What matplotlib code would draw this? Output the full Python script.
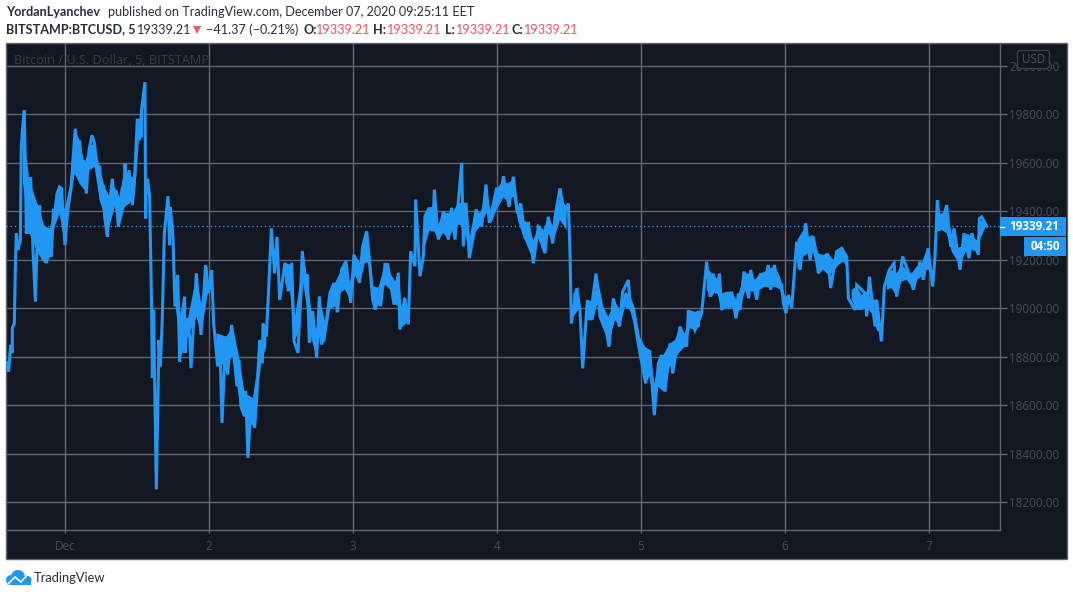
import matplotlib
matplotlib.use('Agg')
import matplotlib.pyplot as plt
from matplotlib.patches import Rectangle, FancyBboxPatch, Polygon, Ellipse

nan = float('nan')

# hours since Dec 1 00:00 (5 minute BTCUSD on Bitstamp)
hours = [
    -9.67, -9.39, -9.06, -8.78, -8.78, -8.44, -8.28, -8.11, -7.83, -7.44, -7.28, -7.11, -6.78, -6.56, -6.44, -6.11,
    -6.0, -5.72, -5.33, -4.94, -4.67, -4.22, -4.06, -3.67, -3.39, -3.06, -2.56, -2.28, -1.94, -1.72, -1.33, -0.89,
    -0.56, 0, 0.5, 1.06, 1.33, 1.72, 2.0, 2.44, 2.78, 3.11, 3.56, 4.0, 4.5, 4.94, 5.22, 5.78, 6.06, 6.44, 6.61,
    7.06, 7.44, 7.89, 8.28, 8.5, 8.89, 9.56, 9.78, 10.0, 10.33, 10.67, 11.22, 11.61, 12.06, 12.44, 12.78, 13.33,
    13.44, 13.56, 13.78, 14.11, 14.44, 14.56, 14.78, 14.94, 15.22, 15.67, 15.89, 16.22, 16.56, 17.17, 17.44, 17.56,
    18.0, 18.33, 18.78, 19.11, 19.44, 19.94, 20.0, 20.33, 20.78, 21.0, 21.89, 22.67, 23.44, 23.94, 24.44, 24.78,
    25.44, 25.78, 26.17, 26.78, 27.11, 27.78, 28.11, 28.67, 29.0, 29.33, 29.94, 30.11, 30.5, 30.89, 31.17, 31.61,
    32.0, 32.44, 32.89, 33.0, 33.56, 34.0, 34.39, 34.94, 35.33, 35.78,
    36.67, 37.22, 37.78, 38.17, 38.83, 39.56, 40.0, 40.39, 40.72, 41.28, 41.94, 42.39, 42.78, 43.61, 44.17, 44.83,
    45.39, 46.11, 46.83, 47.61, 48.17, 49.06, 49.61, 50.28, 50.72, 51.28, 51.72, 52.28, 52.61, 53.33, 53.78, 54.28,
    54.83, 55.56, 55.83, 56.61, 57.22, 57.61, 58.33, 58.44, 59.17, 59.72, 60.0, 60.72, 61.28, 61.56, 62.22, 63.06,
    63.89, 64.44, 65.0, 66.11, 66.39, 66.83, 67.39, 68.06, 68.5, 69.44, 70.17, 70.72, 71.94, 72.5, 73.06,
    74.0, 74.72, 75.39, 75.94, 76.39, 76.67, 77.22, 78.06, 78.89, 79.44, 80.0, 80.56, 81.28, 81.67, 82.5, 83.22,
    83.89, 84.17, 84.39, 85.28, 85.83, 86.28, 87.06, 87.5, 88.5, 89.17, 90.28, 90.67, 91.39, 92.39, 92.94, 93.89,
    94.17, 94.94, 95.83, 96.78, 97.44, 98.22, 98.89, 99.44, 100.0, 100.83, 101.28, 102.5, 103.61, 103.89, 105.0,
    106.11, 106.94, 107.5, 108.06, 108.61, 109.06, 109.44, 110.0, 110.83, 111.11, 111.83, 112.22,
    112.5, 113.17, 113.94, 114.28, 115.28, 115.94, 116.5, 117.22, 117.61, 118.22, 118.61, 119.44, 119.72, 120.17,
    120.56, 121.11, 121.94, 122.5, 123.44, 124.17, 124.72, 125.56, 127.06, 127.61, 128.61, 129.44, 130.28, 130.56,
    131.67, 131.94, 133.33, 133.61, 134.06, 135.0, 135.28, 136.06, 136.56, 137.39, 138.17, 138.61, 139.61, 140.83,
    141.39, 142.5, 143.06, 143.83, 144.61, 145.0, 145.39, 145.83, 146.94, 147.61, 148.17, 149.17, 149.83, 150.67,
    151.11, 152.22, 152.39, 152.78, 153.61,
]
prices = [
    18775, 18740, 18850, 18816, 18918, 18939, 19158, 19309, 19241, 19282, 19666, 19734, 19816, 19515, 19309, 19529,
    19309, 19542, 19241, 19028, 19254, 19426, 19268, 19200, 19337, 19186, 19330, 19213, 19398, 19391, 19474, 19501,
    19494, 19261, 19419, 19508, 19611, 19741, 19556, 19693, 19515, 19611, 19474, 19652, 19714, 19679, 19597, 19583,
    19446, 19508, 19378, 19295, 19433, 19535, 19419, 19487, 19337, 19501, 19419, 19597, 19474, 19570, 19426, 19542,
    19782, 19693, 19823, 19933, 19371, 19529, 19529, 19460, 18994, 18713, 18994, 18706, 18254, 18870, 18761, 18960,
    19309, 19463, 19261, 19419, 19295, 19008, 19138, 18781, 18966, 19049, 18816, 18960, 18884, 18754, 19145, 18891,
    19179, 19062, 19158, 18939, 18761, 18891, 18528, 18884, 18727, 18932, 18816, 18679, 18788, 18596, 18555, 18658,
    18384, 18562, 18631, 18507, 18651, 18870, 18774, 18939, 18884, 19110, 19330, 19145, 19295, 19035,
    19188, 19071, 19188, 18865, 18817, 19236, 19105, 19140, 18858, 18989, 18796, 19050, 18851, 18954, 19064, 19105,
    18984, 19160, 19195, 19023, 19222, 19105, 19256, 19318, 19202, 19037, 18995, 19085, 19009, 19181, 19181, 19105,
    19016, 19147, 18913, 19044, 18934, 19236, 19174, 19449, 19133, 19215, 19380, 19415, 19318, 19490, 19284, 19401,
    19284, 19415, 19284, 19600, 19256, 19435, 19208, 19298, 19408, 19339, 19511, 19353, 19497, 19449, 19545,
    19419, 19543, 19392, 19433, 19351, 19289, 19357, 19186, 19337, 19323, 19227, 19378, 19268, 19378, 19495, 19392,
    19433, 19227, 18938, 19083, 18993, 18753, 19035, 18952, 19144, 18966, 18897, 18842, 19041, 18925, 19069, 19117,
    19021, 18945, 18815, 18691, 18828, 18560, 18773, 18808, 18657, 18856, 18732, 18925, 18842, 18993, 18911,
    18980, 19193, 19048, 19144, 19062, 19144, 18993, 19062, 19000, 19069, 18959, 19062,
    18994, 19152, 19042, 19159, 19036, 19145, 19090, 19179, 19077, 19179, 19125, 19097, 19022, 18981,
    19056, 19001, 19275, 19159, 19351, 19200, 19296, 19145, 19227, 19084, 19234, 19248, 19214, 19042,
    18994, 19097, 19063, 18967, 19131, 18926, 19036, 18864, 19090, 19159, 19186, 19049, 19214, 19131,
    19077, 19193, 19118, 19248, 19090, 19214, 19447, 19323, 19426, 19255, 19330, 19159, 19310, 19207,
    19310, 19221, 19371, 19378, 19339.21,
]

# where the 5 minute swings run together: the high and low of the solid body, nan across the fast moves
band_hours = [
    -7.0, -5.89, -4.5, -3.39, -2.56, -1.72, -0.89, -0.06, 0.78, 1.61, 2.44, 3.28, 4.11, 4.94, 5.78, 6.61, 7.44,
    8.28, 9.11, 9.94, 10.78, 11.61, 12.33, 13.0, 13.4, 13.83, 14.2,
    18.44, 19.39, 20.5, 21.89, 22.72, 23.83, 24.5, 25.22, 26.89, 28.0, 29.11, 29.94, 31.33, 32.72, 33.56, 34.0,
    36.67, 37.5, 38.33, 39.17, 39.72, 40.28, 41.11, 41.94, 42.5, 43.33, 44.17, 45.0, 45.83, 46.67, 47.5, 48.33,
    49.17, 50.0, 50.56, 51.39, 52.22, 53.33, 54.17, 55.0, 55.56, 56.11, 56.94, 57.5,
    59.83, 60.72, 61.39, 62.22, 63.06, 63.89, 64.72, 65.56, 66.28, 66.94, 67.5, 68.33, 69.17, 70.28, 71.11, 71.94,
    73.06, 73.61, 74.72, 75.56, 76.39, 77.22, 78.06, 78.89, 79.72, 80.56, 81.39, 82.5, 83.61, 84.0,
    84.72, 85.56, 86.0,
    87.06, 88.06, 88.72, 89.72, 90.56, 91.67, 92.5, 93.33, 94.17, 95.0, 95.83, 96.67, 97.5, 98.22, 98.89, 99.72,
    100.83, 101.67, 102.5, 103.33, 104.17, 105.0, 105.83, 106.4,
    106.94, 107.78, 108.61, 109.44, 110.28, 111.11, 111.94, 113.33, 114.17, 115.0, 115.83, 116.67, 117.5, 118.33,
    119.17, 120.0, 120.83, 121.3,
    122.06, 123.06, 123.89, 124.72, 125.56, 126.39, 127.22, 128.06, 128.89, 129.72, 130.28, 130.7,
    131.11, 131.94, 132.78, 133.61, 134.44, 135.28, 135.83, 136.3,
    136.94, 137.78, 138.61, 139.44, 140.28, 141.11, 141.94, 142.78, 143.61, 144.17, 144.8,
    145.28, 146.11, 146.94, 147.78, 148.61, 149.44, 150.28, 151.11, 151.94, 152.61, 153.33,
]
band_high = [
    19748, 19522, 19426, 19337, 19330, 19398, 19501, 19405, 19501, 19741, 19693, 19597, 19672, 19679, 19583, 19501, 19460,
    19501, 19460, 19583, 19542, 19542, 19775, 19830, nan, 19529, nan,
    19131, 18966, 18960, 19131, 19021, 19172, nan, 18898, 18884, 18925, 18788, 18651, 18631, 18870, 18939, nan,
    19188, 19181, 18968, 19105, 19229, 19140, 18982, 18913, 19037, 18947, 19064, 19105, 19147, 19181, 19105, 19222,
    19188, 19284, 19291, 19092, 19085, 19181, 19147, 19112, 19147, 19009, 19037, nan,
    19380, 19415, 19421, 19346, 19394, 19394, 19401, 19435, 19435, 19435, 19298, 19408, 19394, 19463, 19394, 19490,
    19531, 19515, 19529, 19419, 19364, 19351, 19282, 19337, 19323, 19378, 19337, 19460, 19419, nan,
    19062, 19089, nan,
    19035, 19028, 19131, 19007, 18966, 19028, 18993, 19069, 19055, 19000, 18883, 18842, 18828, 18691, 18773, 18808,
    18856, 18870, 18925, 18897, 18993, 18986, 18993, nan,
    19172, 19144, 19124, 19062, 19069, 19069, 19035, 19145, 19145, 19118, 19145, 19152, 19166, 19173,
    19131, 19049, 19056, nan,
    19282, 19323, 19296, 19303, 19227, 19221, 19227, 19200, 19234, 19248, 19214, nan,
    19077, 19090, 19056, 19070, 19036, 19036, 18967, nan,
    19145, 19159, 19145, 19179, 19159, 19145, 19173, 19186, 19241, 19227, nan,
    19392, 19392, 19392, 19310, 19248, 19255, 19310, 19296, 19282, 19364, 19358,
]
band_low = [
    19515, 19309, 19227, 19186, 19206, 19337, 19391, 19268, 19419, 19556, 19515, 19487, 19570, 19583, 19446, 19378, 19337,
    19419, 19337, 19419, 19433, 19460, 19693, 19707, nan, 19378, nan,
    19008, 18802, 18884, 18966, 18898, 19062, nan, 18761, 18774, 18802, 18610, 18555, 18514, 18774, 18843, nan,
    19105, 19071, 18872, 18913, 19105, 19009, 18872, 18803, 18886, 18858, 18995, 19009, 19064, 19078, 19037, 19133,
    19105, 19188, 19188, 19002, 19009, 19098, 19078, 19016, 19009, 18920, 18940, nan,
    19243, 19318, 19325, 19284, 19311, 19284, 19325, 19346, 19339, 19284, 19215, 19311, 19339, 19394, 19353, 19408,
    19456, 19447, 19460, 19357, 19296, 19247, 19200, 19289, 19227, 19309, 19275, 19364, 19323, nan,
    18966, 18993, nan,
    18952, 18952, 19021, 18938, 18856, 18952, 18925, 19007, 18993, 18938, 18815, 18691, 18719, 18567, 18677, 18657,
    18760, 18794, 18822, 18842, 18918, 18911, 18925, nan,
    19076, 19048, 19076, 18993, 19000, 19007, 18959, 19070, 19070, 19070, 19077, 19090, 19084, 19090,
    19077, 19008, 19015, nan,
    19159, 19214, 19227, 19227, 19145, 19159, 19138, 19152, 19179, 19193, 19173, nan,
    19036, 18994, 18994, 19001, 18981, 18912, 18899, nan,
    19077, 19084, 19049, 19111, 19118, 19090, 19118, 19131, 19159, 19159, nan,
    19316, 19323, 19310, 19234, 19200, 19200, 19241, 19241, 19234, 19289, 19330,
]

price_ticks = [18200, 18400, 18600, 18800, 19000, 19200, 19400, 19600, 19800, 20000]
day_ticks = [0, 24, 48, 72, 96, 120, 144]
day_labels = ['Dec', '2', '3', '4', '5', '6', '7']
last_price = 19339.21

BG = '#131722'
GRID = '#62646e'
DIM = '#4a4d57'
BLUE = '#2196f3'
RED = '#f7525f'
INK = '#2a2e39'
W, H = 1073, 596

plt.rcParams['font.family'] = ['Lato', 'DejaVu Sans']

fig = plt.figure(figsize=(W / 100, H / 100), dpi=100, facecolor='white')
fig.add_artist(Rectangle((6 / W, 1 - 559 / H), 1060.5 / W, 516 / H, transform=fig.transFigure,
                         facecolor=BG, edgecolor=GRID, lw=1, zorder=-1))

ax = fig.add_axes([6 / W, 1 - 530 / H, 994 / W, 487 / H], facecolor='none')
ax.set_xlim(-9.83, 155.83)
ax.set_ylim(18086.6, 20094.4)
ax.yaxis.tick_right()
ax.set_yticks(price_ticks)
ax.set_yticklabels(['%.2f' % p for p in price_ticks], family='Open Sans', fontsize=8.4, color=DIM)
ax.set_xticks(day_ticks)
ax.set_xticklabels(day_labels, family='Open Sans', fontsize=8.4, color=DIM)
ax.tick_params(axis='y', length=5, width=1, color=GRID, pad=1.5)
ax.tick_params(axis='x', length=2.2, width=1, color=GRID, pad=5)
ax.grid(True, color=GRID, lw=1)
ax.set_axisbelow(True)
for s in ax.spines.values():
    s.set_color(GRID)
    s.set_linewidth(1)
ax.spines['top'].set_visible(False)
ax.spines['left'].set_visible(False)

ax.axhline(last_price, color=BLUE, lw=1, ls=(0, (1, 2)), zorder=2)
ax.fill_between(band_hours, band_low, band_high, color=BLUE, lw=0, zorder=3)
ax.plot(hours, prices, color=BLUE, lw=2.2, solid_joinstyle='miter', zorder=3)

# everything around the plot is placed in pixels
top = fig.add_axes([0, 0, 1, 1], facecolor='none')
top.set_xlim(0, W)
top.set_ylim(H, 0)
top.axis('off')


def label(x, y, s, **kw):
    kw.setdefault('fontsize', 9.05)
    kw.setdefault('color', INK)
    kw.setdefault('va', 'center')
    top.text(x, y, s, **kw)


ax.text(8.5 / 994, 1 - 17.5 / 487, 'Bitcoin / U.S. Dollar, 5, BITSTAMP', transform=ax.transAxes, color='#3a3d48',
        fontsize=9.2, family='Open Sans', va='center', zorder=0.5)

label(6, 12.5, 'YordanLyanchev', fontweight='bold')
label(108, 12.5, 'published on TradingView.com, December 07, 2020 09:25:11 EET')
label(6, 29.5, 'BITSTAMP:BTCUSD, 5', fontweight='bold')
label(136.5, 29.5, '19339.21')
top.add_patch(Polygon([(193, 26), (201, 26), (197, 34)], closed=True, facecolor=RED, edgecolor='none'))
label(206.5, 29.5, '\u221241.37 (\u22120.21%)')
for x_key, key, x_val in [(303, 'O:', 316), (373.5, 'H:', 387), (445, 'L:', 455.5), (512, 'C:', 524)]:
    label(x_key, 29.5, key, fontweight='bold')
    label(x_val, 29.5, '%.2f' % last_price, color=RED)

# currency badge sits over the top price label
top.add_patch(FancyBboxPatch((1019, 52), 29, 15, boxstyle='round,pad=1.5,rounding_size=3',
                             facecolor=BG, edgecolor='#3c3f4a', lw=1))
label(1033.5, 59.5, 'USD', color='#50535e', fontsize=8.4, family='Open Sans', ha='center')

top.add_patch(Rectangle((1000, 217), 66, 19, facecolor=BLUE, edgecolor='none'))
top.plot([1000, 1004], [226.5, 226.5], color='white', lw=1)
label(1034, 226.5, '%.2f' % last_price, color='white', fontsize=8.4, family='Open Sans', fontweight='bold', ha='center')
top.add_patch(Rectangle((1024, 237), 42, 19, facecolor=BLUE, edgecolor='none'))
label(1045, 246.5, '04:50', color='white', fontsize=8.4, family='Open Sans', fontweight='bold', ha='center')

# logo: cloud with a small white trend line
for cx, cy, w, h in [(11, 580, 10, 10), (18, 575.5, 13, 11), (26, 580, 11, 9)]:
    top.add_patch(Ellipse((cx, cy), w, h, facecolor=BLUE, edgecolor='none'))
top.add_patch(Rectangle((7, 580), 24, 5, facecolor=BLUE, edgecolor='none'))
top.plot([8, 15, 21, 28], [584, 577, 582, 574], color='white', lw=1.2)
label(34, 577.5, 'TradingView', fontsize=9.3)

fig.savefig('out.png', dpi=100)
